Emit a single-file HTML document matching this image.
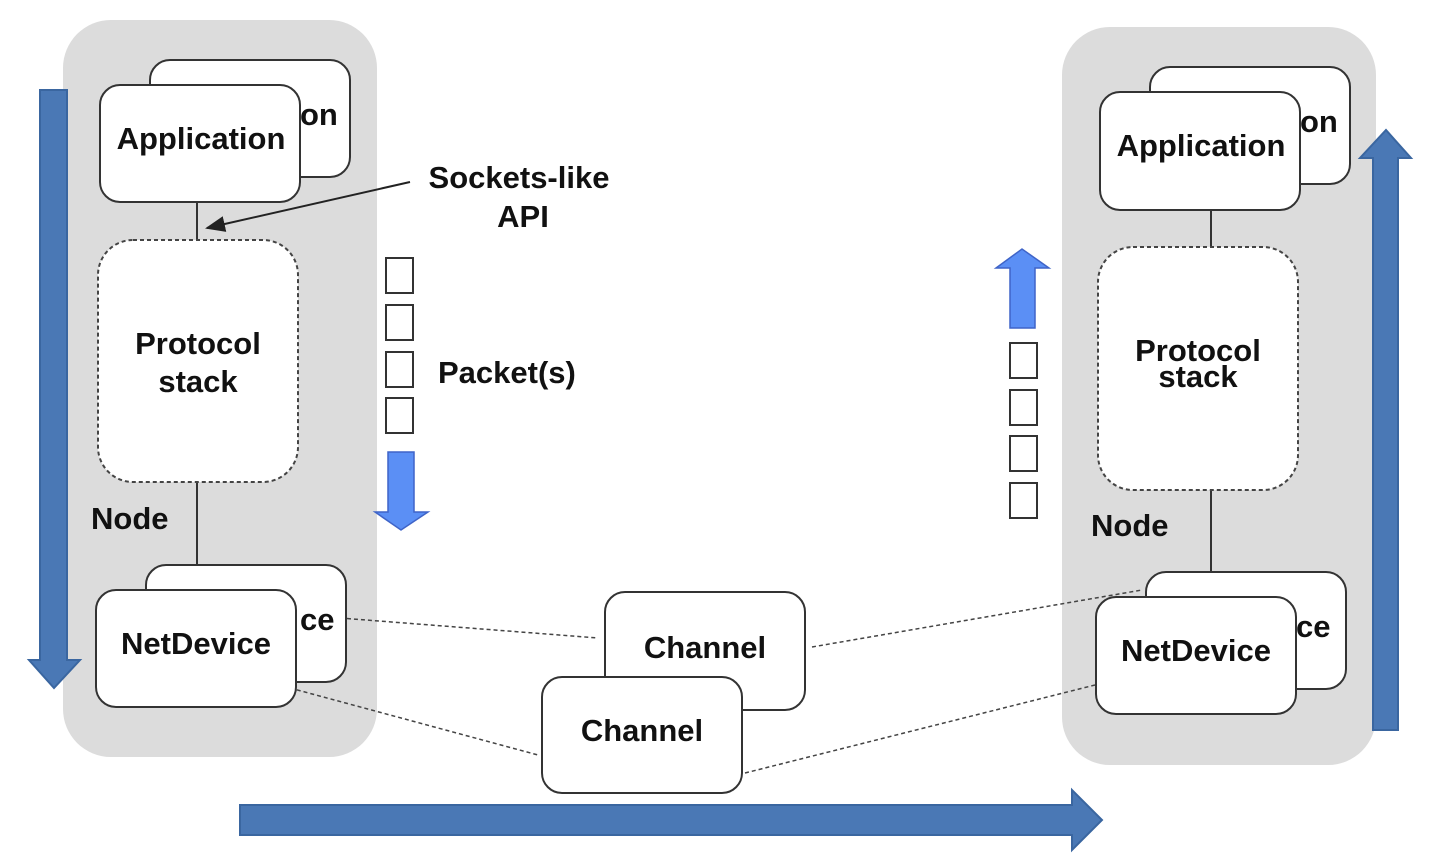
<!DOCTYPE html>
<html><head><style>body{margin:0;background:#fff}svg{display:block}text{font-family:"Liberation Sans",Arial,sans-serif;font-weight:bold;font-size:31px;fill:#111}</style></head>
<body>
<svg width="1434" height="862" viewBox="0 0 1434 862">
<defs><marker id="ah" markerWidth="10" markerHeight="8" refX="9" refY="4" orient="auto"><path d="M0,0 L10,4 L0,8 z" fill="#222"/></marker></defs>
<rect x="63" y="20" width="314" height="737" rx="48" fill="#dcdcdc"/>
<rect x="1062" y="27" width="314" height="738" rx="48" fill="#dcdcdc"/>
<path d="M40,90 H67 V660 H80 L54,688 L29,660 H40 Z" fill="#4a78b5" stroke="#3a66a0" stroke-width="2"/>
<path d="M1373,730 V158 H1360 L1386,130 L1411,158 H1398 V730 Z" fill="#4a78b5" stroke="#3a66a0" stroke-width="2"/>
<path d="M240,805 H1072 V790 L1102,820 L1072,850 V835 H240 Z" fill="#4a78b5" stroke="#3a66a0" stroke-width="2"/>
<line x1="197" y1="202" x2="197" y2="240" stroke="#333" stroke-width="2"/>
<line x1="197" y1="482" x2="197" y2="567" stroke="#333" stroke-width="2"/>
<line x1="1211" y1="210" x2="1211" y2="247" stroke="#333" stroke-width="2"/>
<line x1="1211" y1="490" x2="1211" y2="573" stroke="#333" stroke-width="2"/>
<g stroke="#444" stroke-width="1.5" stroke-dasharray="4,3" fill="none">
<line x1="340" y1="618" x2="598" y2="638"/>
<line x1="290" y1="688" x2="538" y2="755"/>
<line x1="812" y1="647" x2="1142" y2="590"/>
<line x1="745" y1="773" x2="1095" y2="685"/>
</g>
<g fill="#fff" stroke="#333" stroke-width="2">
<rect x="150" y="60" width="200" height="117" rx="20"/>
<rect x="100" y="85" width="200" height="117" rx="20"/>
<rect x="146" y="565" width="200" height="117" rx="20"/>
<rect x="96" y="590" width="200" height="117" rx="20"/>
<rect x="1150" y="67" width="200" height="117" rx="20"/>
<rect x="1100" y="92" width="200" height="118" rx="20"/>
<rect x="1146" y="572" width="200" height="117" rx="20"/>
<rect x="1096" y="597" width="200" height="117" rx="20"/>
<rect x="605" y="592" width="200" height="118" rx="20"/>
<rect x="542" y="677" width="200" height="116" rx="20"/>
</g>
<g fill="#fff" stroke="#444" stroke-width="2" stroke-dasharray="4,3">
<rect x="98" y="240" width="200" height="242" rx="35"/>
<rect x="1098" y="247" width="200" height="243" rx="35"/>
</g>
<text x="300" y="125">on</text>
<text x="300" y="630">ce</text>
<text x="1300" y="132">on</text>
<text x="1296" y="637">ce</text>
<text x="201" y="149" text-anchor="middle">Application</text>
<text x="196" y="654" text-anchor="middle">NetDevice</text>
<text x="1201" y="156" text-anchor="middle">Application</text>
<text x="1196" y="661" text-anchor="middle">NetDevice</text>
<text x="198" y="354" text-anchor="middle">Protocol</text>
<text x="198" y="392" text-anchor="middle">stack</text>
<text x="1198" y="361" text-anchor="middle">Protocol</text>
<text x="1198" y="387" text-anchor="middle">stack</text>
<text x="705" y="658" text-anchor="middle">Channel</text>
<text x="642" y="741" text-anchor="middle">Channel</text>
<text x="91" y="529">Node</text>
<text x="1091" y="536">Node</text>
<text x="519" y="188" text-anchor="middle">Sockets-like</text>
<text x="523" y="227" text-anchor="middle">API</text>
<text x="438" y="383">Packet(s)</text>
<line x1="410" y1="182" x2="207" y2="228" stroke="#222" stroke-width="2" marker-end="url(#ah)"/>
<g fill="#fff" stroke="#333" stroke-width="2">
<rect x="386" y="258" width="27" height="35"/><rect x="386" y="305" width="27" height="35"/>
<rect x="386" y="352" width="27" height="35"/><rect x="386" y="398" width="27" height="35"/>
<rect x="1010" y="343" width="27" height="35"/><rect x="1010" y="390" width="27" height="35"/>
<rect x="1010" y="436" width="27" height="35"/><rect x="1010" y="483" width="27" height="35"/>
</g>
<path d="M388,452 H414 V512 H428 L401,530 L375,512 H388 Z" fill="#5b8ff5" stroke="#3f64c8" stroke-width="1.5"/>
<path d="M1010,328 V268 H996 L1022,249 L1049,268 H1035 V328 Z" fill="#5b8ff5" stroke="#3f64c8" stroke-width="1.5"/>
</svg>
</body></html>
